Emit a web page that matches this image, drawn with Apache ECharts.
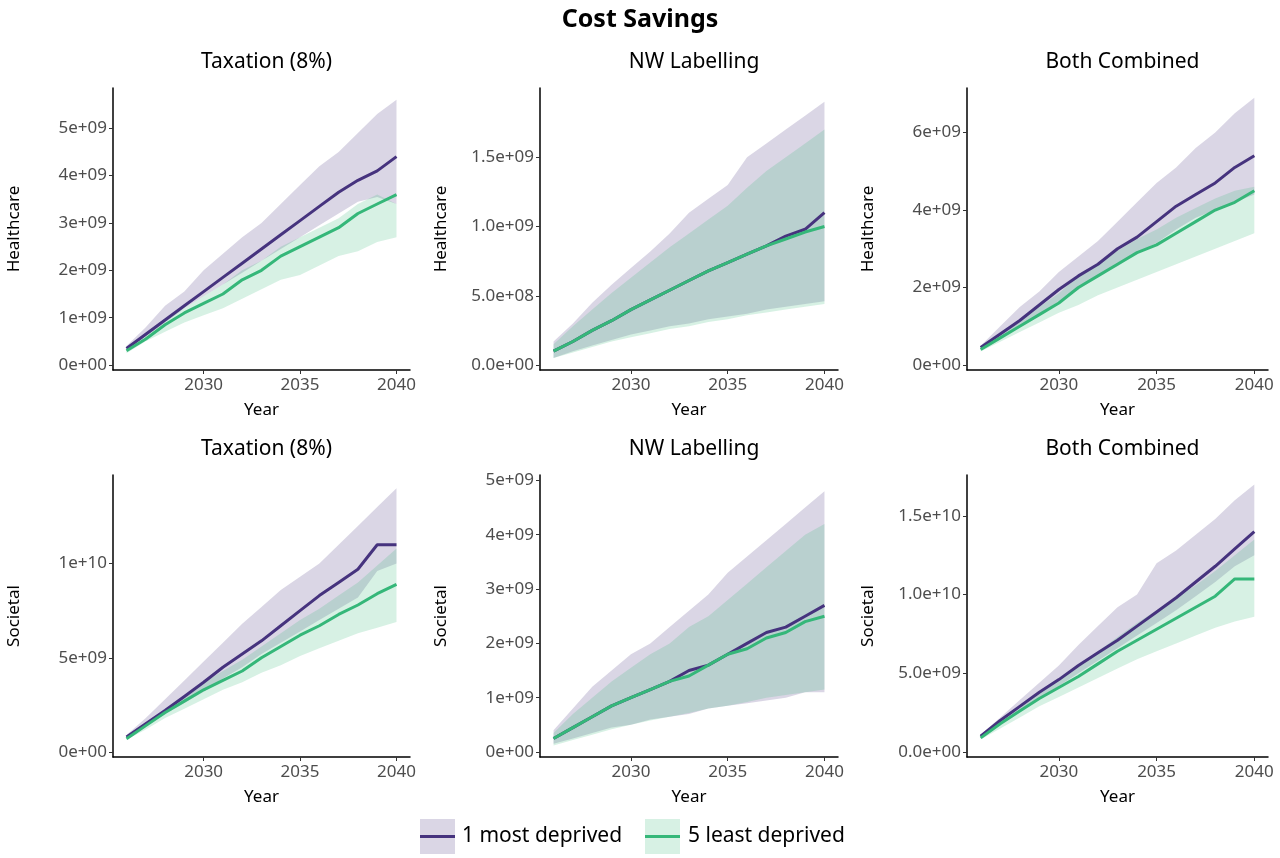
<!DOCTYPE html>
<html>
<head>
<meta charset="utf-8">
<script src="https://cdn.jsdelivr.net/npm/echarts@6/dist/echarts.min.js"></script>
<style>html,body{margin:0;padding:0;background:#fff}#main{width:1280px;height:858px}</style>
</head>
<body>
<div id="main"></div>
<script>
// years and values (in units of 1e9)
var years = [2026,2027,2028,2029,2030,2031,2032,2033,2034,2035,2036,2037,2038,2039,2040];
var panelTitles = ['Taxation (8%)', 'NW Labelling', 'Both Combined', 'Taxation (8%)', 'NW Labelling', 'Both Combined'];
var panelRows = ['Healthcare', 'Healthcare', 'Healthcare', 'Societal', 'Societal', 'Societal'];
var yMax = [5.85, 2.0, 7.15, 14.7, 5.1, 17.6];
var yTicks = [[0,1,2,3,4,5], [0,0.5,1.0,1.5], [0,2,4,6], [0,5,10], [0,1,2,3,4,5], [0,5,10,15]];
var tickDigits = [0, 1, 0, 0, 0, 1];
var xTicks = [2030, 2035, 2040];

var mostMean = [
  [0.35,0.65,0.95,1.25,1.55,1.85,2.15,2.45,2.75,3.05,3.35,3.65,3.9,4.1,4.4],
  [0.1,0.17,0.25,0.32,0.4,0.47,0.54,0.61,0.68,0.74,0.8,0.86,0.93,0.98,1.1],
  [0.45,0.8,1.15,1.55,1.95,2.3,2.6,3.0,3.3,3.7,4.1,4.4,4.7,5.1,5.4],
  [0.8,1.5,2.2,2.95,3.7,4.5,5.2,5.9,6.7,7.5,8.3,9.0,9.7,11.0,11.0],
  [0.25,0.45,0.65,0.85,1.0,1.15,1.3,1.5,1.6,1.8,2.0,2.2,2.3,2.5,2.7],
  [1.0,2.0,2.9,3.8,4.6,5.5,6.3,7.1,8.0,8.9,9.8,10.8,11.8,12.9,14.0]
];
var mostLow = [
  [0.3,0.6,0.9,1.2,1.45,1.7,1.95,2.2,2.45,2.7,2.95,3.2,3.45,3.55,3.4],
  [0.05,0.1,0.14,0.18,0.22,0.25,0.28,0.3,0.33,0.35,0.37,0.4,0.42,0.44,0.46],
  [0.4,0.7,1.0,1.3,1.65,1.95,2.3,2.55,2.9,3.15,3.5,3.8,4.0,4.2,4.4],
  [0.75,1.4,2.0,2.6,3.2,3.9,4.5,5.2,5.8,6.4,7.0,7.6,8.2,9.6,10.0],
  [0.15,0.25,0.35,0.45,0.5,0.6,0.65,0.7,0.8,0.85,0.9,0.95,1.0,1.1,1.1],
  [0.9,1.8,2.6,3.4,4.2,5.0,5.8,6.6,7.4,8.2,9.0,9.9,10.8,11.8,12.5]
];
var mostHigh = [
  [0.4,0.8,1.25,1.55,2.0,2.35,2.7,3.0,3.4,3.8,4.2,4.5,4.9,5.3,5.6],
  [0.17,0.3,0.45,0.58,0.7,0.82,0.95,1.1,1.2,1.3,1.5,1.6,1.7,1.8,1.9],
  [0.5,1.0,1.5,1.9,2.4,2.8,3.2,3.7,4.2,4.7,5.1,5.6,6.0,6.5,6.9],
  [0.9,1.8,2.8,3.8,4.8,5.8,6.8,7.7,8.6,9.3,10.0,11.0,12.0,13.0,14.0],
  [0.4,0.8,1.2,1.5,1.8,2.0,2.3,2.6,2.9,3.3,3.6,3.9,4.2,4.5,4.8],
  [1.1,2.2,3.3,4.4,5.5,6.8,8.0,9.2,10.0,12.0,12.8,13.8,14.8,16.0,17.0]
];
var leastMean = [
  [0.3,0.55,0.85,1.1,1.3,1.5,1.8,2.0,2.3,2.5,2.7,2.9,3.2,3.4,3.6],
  [0.1,0.17,0.25,0.32,0.4,0.47,0.54,0.61,0.68,0.74,0.8,0.86,0.91,0.96,1.0],
  [0.4,0.7,1.0,1.3,1.6,2.0,2.3,2.6,2.9,3.1,3.4,3.7,4.0,4.2,4.5],
  [0.7,1.4,2.1,2.7,3.3,3.8,4.3,5.0,5.6,6.2,6.7,7.3,7.8,8.4,8.9],
  [0.25,0.45,0.65,0.85,1.0,1.15,1.3,1.4,1.6,1.8,1.9,2.1,2.2,2.4,2.5],
  [0.9,1.8,2.6,3.4,4.1,4.8,5.6,6.4,7.1,7.8,8.5,9.2,9.9,11.0,11.0]
];
var leastLow = [
  [0.25,0.5,0.7,0.9,1.05,1.2,1.4,1.6,1.8,1.9,2.1,2.3,2.4,2.6,2.7],
  [0.05,0.09,0.13,0.17,0.2,0.23,0.26,0.28,0.31,0.33,0.36,0.38,0.4,0.42,0.44],
  [0.35,0.6,0.85,1.1,1.35,1.55,1.8,2.0,2.2,2.4,2.6,2.8,3.0,3.2,3.4],
  [0.65,1.2,1.8,2.3,2.8,3.3,3.7,4.2,4.6,5.1,5.5,5.9,6.3,6.6,6.9],
  [0.12,0.22,0.32,0.42,0.5,0.58,0.65,0.72,0.8,0.85,0.92,1.0,1.05,1.1,1.15],
  [0.8,1.5,2.2,2.9,3.5,4.1,4.7,5.3,5.9,6.4,6.9,7.4,7.9,8.3,8.6]
];
var leastHigh = [
  [0.35,0.65,0.95,1.2,1.45,1.7,2.0,2.2,2.5,2.7,2.9,3.1,3.4,3.6,3.4],
  [0.15,0.28,0.4,0.52,0.63,0.74,0.85,0.95,1.05,1.15,1.28,1.4,1.5,1.6,1.7],
  [0.45,0.8,1.15,1.5,1.85,2.3,2.6,2.95,3.25,3.5,3.8,4.05,4.3,4.5,4.6],
  [0.8,1.55,2.3,3.0,3.7,4.3,4.9,5.6,6.3,7.0,7.6,8.3,9.0,9.9,10.8],
  [0.35,0.7,1.0,1.3,1.55,1.8,2.0,2.3,2.5,2.8,3.1,3.4,3.7,4.0,4.2],
  [1.0,2.0,2.9,3.8,4.6,5.5,6.4,7.3,8.2,9.0,9.8,10.6,11.5,12.5,13.5]
];
var legendNames = ['1 most deprived', '5 least deprived'];

var purple = '#46337e', green = '#35b779';
var purpleFill = 'rgba(70,51,126,0.2)', greenFill = 'rgba(53,183,121,0.2)';
var font = 'Noto Sans';

var lefts = [113, 540, 967], widths = [297, 298, 301];
var tops = [88, 475], height = 282;

function sci(v, d) {
  var s = (v * 1e9).toExponential(d);
  return s.replace(/e([+-])(\d)$/, 'e$10$2');
}
function pairs(arr) { return years.map(function (y, i) { return [y, arr[i]]; }); }
function bandRows(lo, hi) { return years.map(function (y, i) { return [y, lo[i], hi[i]]; }); }

// ribbon as one polygon through the axis scales
function ribbon(fill) {
  return function (params, api) {
    if (params.dataIndex !== 0) return null;
    var n = params.dataInsideLength, top = [], bot = [];
    for (var i = 0; i < n; i++) {
      var x = api.value(0, i);
      bot.push(api.coord([x, api.value(1, i)]));
      top.push(api.coord([x, api.value(2, i)]));
    }
    return { type: 'polygon', shape: { points: bot.concat(top.reverse()) }, style: { fill: fill }, silent: true };
  };
}

var grid = [], xAxis = [], yAxis = [], series = [], titles = [];
titles.push({ text: 'Cost Savings', left: 'center', top: 2,
  textStyle: { fontFamily: font, fontSize: 25, fontWeight: 'bold', color: '#000' } });

for (var p = 0; p < 6; p++) {
  var col = p % 3, row = Math.floor(p / 3);
  grid.push({ left: lefts[col], top: tops[row], width: widths[col], height: height });
  titles.push({ text: panelTitles[p], left: lefts[col] + widths[col] / 2, top: tops[row] - 41, textAlign: 'center',
    textStyle: { fontFamily: font, fontSize: 21, fontWeight: 'normal', color: '#000' } });
  xAxis.push({ type: 'value', gridIndex: p, min: 2025.3, max: 2040.7,
    name: 'Year', nameLocation: 'middle', nameGap: 32,
    nameTextStyle: { fontFamily: font, fontSize: 17, color: '#000' },
    axisLine: { show: true, onZero: false, lineStyle: { color: '#000', width: 1.5 } },
    axisTick: { show: true, length: 4, customValues: xTicks, lineStyle: { color: '#333' } },
    axisLabel: { customValues: xTicks, fontFamily: font, fontSize: 17, color: '#4d4d4d', margin: 7,
      formatter: function (v) { return String(v); } },
    splitLine: { show: false } });
  (function (d) {
    yAxis.push({ type: 'value', gridIndex: p, min: -yMax[p] * 0.018, max: yMax[p],
      name: panelRows[p], nameLocation: 'middle', nameGap: 90, nameRotate: 90,
      nameTextStyle: { fontFamily: font, fontSize: 17, color: '#000' },
      axisLine: { show: true, onZero: false, lineStyle: { color: '#000', width: 1.5 } },
      axisTick: { show: true, length: 4, customValues: yTicks[p], lineStyle: { color: '#333' } },
      axisLabel: { customValues: yTicks[p], fontFamily: font, fontSize: 17, color: '#4d4d4d', margin: 6,
        formatter: function (v) { return sci(v, d); } },
      splitLine: { show: false } });
  })(tickDigits[p]);

  series.push({ type: 'custom', xAxisIndex: p, yAxisIndex: p, data: bandRows(mostLow[p], mostHigh[p]),
    encode: { x: 0, y: [1, 2] }, renderItem: ribbon(purpleFill), silent: true, z: 1 });
  series.push({ type: 'custom', xAxisIndex: p, yAxisIndex: p, data: bandRows(leastLow[p], leastHigh[p]),
    encode: { x: 0, y: [1, 2] }, renderItem: ribbon(greenFill), silent: true, z: 1 });
  series.push({ name: legendNames[0], type: 'line', xAxisIndex: p, yAxisIndex: p, data: pairs(mostMean[p]),
    symbol: 'none', lineStyle: { color: purple, width: 3 }, z: 3 });
  series.push({ name: legendNames[1], type: 'line', xAxisIndex: p, yAxisIndex: p, data: pairs(leastMean[p]),
    symbol: 'none', lineStyle: { color: green, width: 3 }, z: 4 });
}

// legend drawn as ggplot-style keys
var graphic = [
  { type: 'rect', shape: { x: 420, y: 819, width: 35, height: 35 }, style: { fill: purpleFill } },
  { type: 'line', shape: { x1: 420, y1: 836.5, x2: 455, y2: 836.5 }, style: { stroke: purple, lineWidth: 3 } },
  { type: 'text', x: 462, y: 836, style: { text: legendNames[0], fontFamily: font, fontSize: 21, fill: '#000', verticalAlign: 'middle' } },
  { type: 'rect', shape: { x: 645, y: 819, width: 35, height: 35 }, style: { fill: greenFill } },
  { type: 'line', shape: { x1: 645, y1: 836.5, x2: 680, y2: 836.5 }, style: { stroke: green, lineWidth: 3 } },
  { type: 'text', x: 688, y: 836, style: { text: legendNames[1], fontFamily: font, fontSize: 21, fill: '#000', verticalAlign: 'middle' } }
];

var chart = echarts.init(document.getElementById('main'));
chart.setOption({
  animation: false,
  backgroundColor: '#fff',
  title: titles,
  grid: grid,
  xAxis: xAxis,
  yAxis: yAxis,
  series: series,
  graphic: graphic
});
</script>
</body>
</html>
